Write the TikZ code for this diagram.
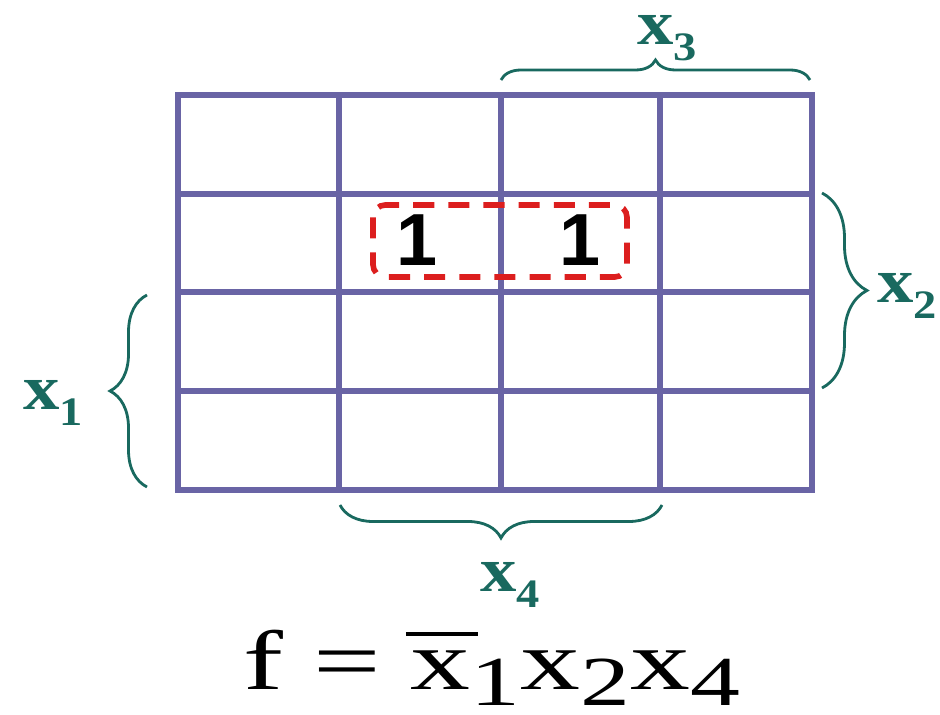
\documentclass[tikz,border=0pt]{standalone}
\usepackage{fontspec}
\setmainfont{Liberation Serif}
\newfontfamily\onefont{Liberation Sans}
\usetikzlibrary{decorations.pathreplacing}

\definecolor{gridpurple}{RGB}{105,100,165}
\definecolor{braceteal}{RGB}{25,105,95}
\definecolor{loopred}{RGB}{220,30,30}

\newcommand\lowsub[1]{\raisebox{-9pt}{\fontsize{40}{40}\selectfont #1}}
\newcommand\labsub[1]{\raisebox{-9pt}{\fontsize{23}{23}\selectfont\bfseries #1}}
\newcommand\barx{\makebox[0pt][l]{\hspace*{-0.04em}\raisebox{0.64em}{\rule{0.6em}{0.045em}}}x}

\begin{document}
\begin{tikzpicture}[
  x=0.02cm,y=-0.02cm,
  gridline/.style={draw=gridpurple,line width=3.8pt},
  brace/.style={draw=braceteal,line width=1.6pt,decorate,decoration={brace,amplitude=#1}},
  varlabel/.style={text=braceteal,font=\fontsize{36}{36}\selectfont\bfseries,inner sep=0pt,anchor=base west},
  cellone/.style={font={\onefont\bfseries\fontsize{42}{42}\selectfont},inner sep=0pt},
  group/.style={draw=loopred,line width=3.2pt,dash pattern=on 12pt off 8pt,rounded corners=7pt}
]
\useasboundingbox (0,0) rectangle (940,715);

% the map
\draw[gridline] (178,95) rectangle (812,490);
\foreach \x in {339,501,660}
  \draw[gridline] (\x,95) -- (\x,490);
\foreach \y in {194,292,391}
  \draw[gridline] (178,\y) -- (812,\y);

% the two ones and their group
\node[cellone] (oneA) at (417,240) {1};
\node[cellone] (oneB) at (580,240) {1};
\draw[group] (373,205) rectangle (627,277);

% variable braces
\draw[brace=0.4cm] (501,80) -- (810,80);
\draw[brace=0.9cm] (822,193) -- (822,388);
\draw[brace=0.74cm] (147,487) -- (147,295);
\draw[brace=0.66cm] (662,505) -- (340,505);

\node[varlabel] (lblthree) at (637,45) {\scalebox{1.15}[1]{x\labsub{3}}};
\node[varlabel] (lbltwo) at (877,303) {\scalebox{1.15}[1]{x\labsub{2}}};
\node[varlabel] (lblone) at (23,410) {\scalebox{1.15}[1]{x\labsub{1}}};
\node[varlabel] (lblfour) at (480,592) {\scalebox{1.15}[1]{x\labsub{4}}};

% the function
\node[anchor=base west,inner sep=0pt] (formula) at (243,690)
  {\fontsize{48}{48}\selectfont\scalebox{1.42}[1]{f = \barx\lowsub{1}x\lowsub{2}x\lowsub{4}}};
\end{tikzpicture}
\end{document}
